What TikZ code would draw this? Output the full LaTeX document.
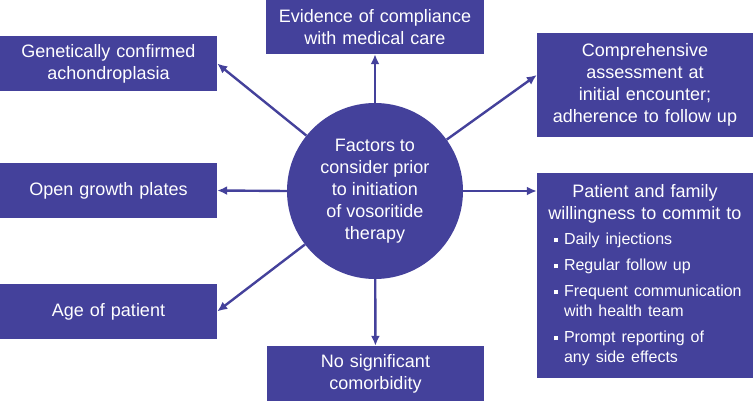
\documentclass[tikz,border=0pt]{standalone}
\usepackage{fontspec}
\setmainfont{Liberation Sans}
\usetikzlibrary{arrows.meta,positioning}
\definecolor{vosoblue}{RGB}{68,65,155}
\newcommand{\sqbul}{\leavevmode\llap{\rule[2.5pt]{4pt}{4pt}\hspace{6pt}}}

\begin{document}
\begin{tikzpicture}[x=1pt, y=-1pt, >={Latex[length=10pt,width=9pt]},
  factor/.style={shape=rectangle, fill=vosoblue, text=white, inner sep=0, align=center, font=\fontsize{18}{22}\selectfont, minimum height=55pt, minimum width=217pt, text width=205pt},
  hub/.style={shape=circle, fill=vosoblue, text=white, inner sep=0, minimum size=176pt, align=center, font=\fontsize{18}{22}\selectfont},
  link/.style={->, draw=vosoblue, line width=2.4pt}]
				\useasboundingbox (0,0) rectangle (755,401);
				\node[factor] (gen) at (108.5,63.5) {Genetically confirmed\\achondroplasia};
				\node[factor, minimum height=54pt, minimum width=218pt] (evid) at (375,27) {Evidence of compliance\\with medical care};
				\node[factor, minimum height=104pt, minimum width=216pt] (comp) at (645,85) {Comprehensive\\assessment at\\initial encounter;\\adherence to follow up};
				\node[factor] (open) at (108.5,190.5) {Open growth plates};
				\node[factor] (age) at (108.5,311.5) {Age of patient};
				\node[factor] (nosig) at (375.5,373.5) {No significant\\comorbidity};
				\node[factor, minimum height=205pt, minimum width=216pt, text width=216pt, align=left] (pat) at (645,275.5) {%
					{\centering Patient and family\\willingness to commit to\par}
					\vspace{5pt}
					{\fontsize{16}{20}\selectfont\leftskip=27pt
					\sqbul Daily injections\par\vspace{6pt}
					\sqbul Regular follow up\par\vspace{6pt}
					\sqbul Frequent communication\\with health team\par\vspace{6pt}
					\sqbul Prompt reporting of\\any side effects\par}};
				\node[hub] (hub) at (375,191) {Factors to\\consider prior\\to initiation\\of vosoritide\\therapy};
				\draw[link] (hub) to (gen.east);
				\draw[link] (hub) to (evid);
				\draw[link] (hub) to ([yshift=10pt]comp.west);
				\draw[link] (hub.west) to (open.east);
				\draw[link] (hub.east) to (hub.east -| pat.west);
				\draw[link] (hub) to (age.east);
				\draw[link] (hub) to (nosig);
			\end{tikzpicture}
\end{document}
